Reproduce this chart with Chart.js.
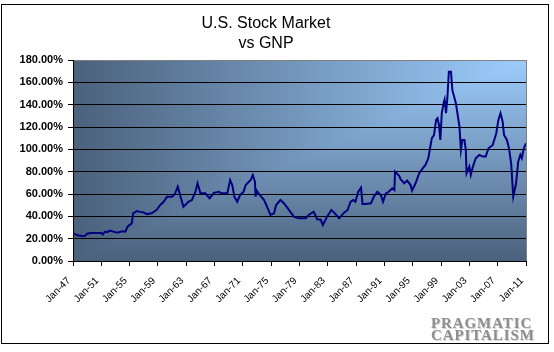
<!DOCTYPE html>
<html>
<head>
<meta charset="utf-8">
<script src="https://cdn.jsdelivr.net/npm/chart.js@4/dist/chart.umd.min.js"></script>
<style>
    html, body { margin: 0; padding: 0; background: #fff; }
    #wrap { position: relative; width: 554px; height: 352px; }
    #chart { position: absolute; left: 0; top: 0; }
    #mark {
        position: absolute; left: 431px; top: 317px; width: 106px;
        font: bold 15px "Liberation Serif", "DejaVu Serif", serif;
        line-height: 12px; color: #8e8e8e; letter-spacing: 0.9px;
        text-shadow: 1px 1px 0 #d4d4d4;
    }
</style>
</head>
<body>
<div id="wrap">
    <canvas id="chart" width="554" height="352"></canvas>
    <div id="mark">PRAGMATIC<br>CAPITALISM</div>
</div>
<script>
// market cap / GNP, in percent
const years = [
    1947.0, 1947.6, 1948.3, 1948.7, 1949.0, 1949.5, 1950.0, 1950.5, 1951.0, 1951.2,
    1951.5, 1951.9, 1952.2, 1952.6, 1953.0, 1953.4, 1953.8, 1954.4, 1954.7, 1955.3,
    1955.5, 1956.0, 1956.5, 1957.0, 1957.4, 1958.1, 1958.8, 1959.3, 1959.8, 1960.3,
    1961.0, 1961.4, 1961.8, 1962.2, 1962.6, 1963.3, 1963.8, 1964.3, 1964.6, 1965.0,
    1965.7, 1966.3, 1966.9, 1967.6, 1968.0, 1968.8, 1969.2, 1969.5, 1969.8, 1970.2,
    1970.6, 1971.1, 1971.4, 1972.1, 1972.4, 1972.7, 1972.8, 1972.9, 1973.2, 1974.0,
    1974.4, 1974.9, 1975.4, 1975.7, 1976.3, 1976.8, 1977.5, 1978.2, 1978.9, 1979.9,
    1980.3, 1981.0, 1981.5, 1982.0, 1982.3, 1982.9, 1983.5, 1983.9, 1984.6, 1985.3,
    1985.8, 1986.2, 1986.6, 1986.9, 1987.3, 1987.7, 1987.9, 1988.3, 1989.1, 1989.5,
    1990.0, 1990.5, 1990.8, 1991.2, 1991.6, 1992.1, 1992.4, 1992.5, 1993.1, 1993.3,
    1993.8, 1994.2, 1994.7, 1994.9, 1995.4, 1995.9, 1996.4, 1996.8, 1997.2, 1997.4,
    1997.7, 1998.0, 1998.3, 1998.5, 1998.7, 1998.9, 1999.1, 1999.4, 1999.5, 1999.7,
    1999.9, 2000.1, 2000.4, 2000.6, 2001.1, 2001.6, 2001.8, 2002.0, 2002.3, 2002.5,
    2002.6, 2003.0, 2003.2, 2003.5, 2003.9, 2004.4, 2004.9, 2005.3, 2005.7, 2006.3,
    2006.8, 2007.1, 2007.4, 2007.7, 2007.9, 2008.3, 2008.6, 2008.9, 2009.2, 2009.6,
    2009.9, 2010.2, 2010.4, 2010.7, 2011.0
];
const ratio = [
    25.0, 23.0, 22.3, 22.5, 24.5, 25.0, 25.0, 25.0, 25.0, 23.8,
    26.2, 26.0, 27.2, 26.5, 25.7, 25.5, 26.5, 26.5, 30.7, 33.7,
    42.7, 44.8, 44.0, 43.5, 42.0, 42.7, 45.7, 50.0, 53.0, 57.6,
    57.6, 60.0, 66.5, 57.6, 48.5, 53.0, 54.6, 62.0, 69.6, 60.6,
    60.6, 56.0, 61.0, 62.0, 60.6, 60.6, 72.5, 68.0, 57.6, 53.0,
    59.0, 62.0, 68.0, 72.5, 77.0, 71.0, 57.6, 63.6, 60.6, 54.6,
    48.6, 41.2, 42.7, 50.1, 54.6, 51.7, 45.7, 39.7, 38.2, 38.2,
    41.2, 44.2, 37.3, 37.0, 32.2, 39.7, 45.7, 43.3, 38.2, 43.3,
    45.7, 53.0, 54.6, 53.0, 62.0, 65.7, 51.0, 51.0, 51.7, 57.6,
    62.0, 59.0, 53.0, 60.6, 62.0, 65.1, 63.6, 80.0, 76.0, 73.0,
    69.6, 72.0, 68.0, 63.0, 69.6, 78.5, 83.0, 86.0, 92.0, 99.4,
    110.0, 112.8, 126.3, 127.8, 122.0, 108.4, 132.3, 142.7, 144.8, 132.3,
    147.0, 169.5, 169.5, 153.0, 141.0, 120.3, 99.4, 108.4, 108.4, 99.4,
    78.5, 84.5, 77.0, 84.5, 92.0, 95.0, 93.5, 93.5, 100.9, 103.9,
    114.4, 126.3, 132.3, 124.8, 112.8, 108.4, 100.9, 87.5, 57.6, 69.6,
    89.0, 95.0, 92.0, 101.0, 105.4
];
const yTicks = [0, 20, 40, 60, 80, 100, 120, 140, 160, 180];
const firstYear = 1947;
const lastYear = 2011;

const darkBlue = '#4b617c';
const lightBlue = '#9dcdfd';

// "from corner" fill: light at the top right, dark along left and bottom
const plotBackground = {
    id: 'plotBackground',
    beforeDraw(chart) {
        const { ctx, chartArea: a } = chart;
        ctx.save();
        let g = ctx.createLinearGradient(0, a.top, 0, a.bottom);
        g.addColorStop(0, lightBlue);
        g.addColorStop(1, darkBlue);
        ctx.fillStyle = g;
        ctx.fillRect(a.left, a.top, a.right - a.left, a.bottom - a.top);

        g = ctx.createLinearGradient(a.right, 0, a.left, 0);
        g.addColorStop(0, lightBlue);
        g.addColorStop(1, darkBlue);
        ctx.fillStyle = g;
        ctx.beginPath();
        ctx.moveTo(a.left, a.top);
        ctx.lineTo(a.right, a.top);
        ctx.lineTo(a.left, a.bottom);
        ctx.closePath();
        ctx.fill();
        ctx.restore();
    },
    beforeDatasetsDraw(chart) {
        const { ctx, chartArea: a } = chart;
        ctx.save();
        ctx.strokeStyle = '#808080';
        ctx.lineWidth = 1;
        ctx.beginPath();
        ctx.moveTo(Math.round(a.right) + 0.5, a.top);
        ctx.lineTo(Math.round(a.right) + 0.5, a.bottom);
        ctx.stroke();
        ctx.restore();
    },
    afterDraw(chart) {
        const ctx = chart.ctx;
        ctx.save();
        ctx.strokeStyle = '#000';
        ctx.lineWidth = 1;
        ctx.strokeRect(1.5, 4.5, 547, 339);
        ctx.restore();
    }
};

const points = years.map((x, i) => ({ x: x, y: ratio[i] }));

const ctx = document.getElementById('chart').getContext('2d');
new Chart(ctx, {
    type: 'line',
    data: {
        datasets: [{
            label: 'Market cap / GNP',
            data: points,
            borderColor: '#000080',
            borderWidth: 2,
            pointRadius: 0,
            tension: 0,
            fill: false
        }]
    },
    options: {
        responsive: false,
        animation: false,
        layout: {
            padding: { left: 6, right: 28, top: 14, bottom: 0 }
        },
        plugins: {
            legend: { display: false },
            tooltip: { enabled: false },
            title: {
                display: true,
                text: ['U.S. Stock Market', 'vs GNP'],
                color: '#000',
                font: { family: 'Arial, "Liberation Sans", sans-serif', size: 16, weight: 'normal', lineHeight: 1.25 },
                padding: { top: 0, bottom: 6 }
            }
        },
        scales: {
            x: {
                type: 'linear',
                min: firstYear,
                max: lastYear,
                afterFit: function (scale) { scale.height = 91; },
                grid: { drawOnChartArea: false, color: '#000', tickLength: 5 },
                border: { color: '#000', width: 1 },
                ticks: {
                    stepSize: 4,
                    autoSkip: false,
                    minRotation: 45,
                    maxRotation: 45,
                    padding: 9,
                    labelOffset: -4,
                    color: '#000',
                    font: { family: 'Arial, "Liberation Sans", sans-serif', size: 10 },
                    callback: function (value) {
                        return 'Jan-' + String(value % 100).padStart(2, '0');
                    }
                }
            },
            y: {
                type: 'linear',
                min: yTicks[0],
                max: yTicks[yTicks.length - 1],
                afterFit: function (scale) { scale.width = 67; },
                afterBuildTicks: function (scale) {
                    scale.ticks = yTicks.map(v => ({ value: v }));
                },
                grid: {
                    color: c => (c.tick && c.tick.value === 180 ? '#808080' : '#000'),
                    tickColor: '#000',
                    tickLength: 5
                },
                border: { color: '#000', width: 1 },
                ticks: {
                    padding: 5,
                    color: '#000',
                    font: { family: 'Arial, "Liberation Sans", sans-serif', size: 11, weight: 'bold' },
                    callback: function (value) {
                        return value.toFixed(2) + '%';
                    }
                }
            }
        }
    },
    plugins: [plotBackground]
});
</script>
</body>
</html>
